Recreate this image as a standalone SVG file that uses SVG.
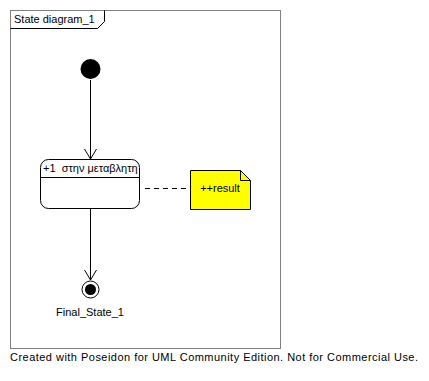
<svg xmlns="http://www.w3.org/2000/svg" width="429" height="381" viewBox="0 0 429 381">
<style>
text{font-family:"Liberation Sans",Arial,sans-serif;font-size:11px;fill:#000}
.ln{stroke:#000;stroke-width:1;fill:none}
</style>
<defs>
<marker id="open" markerWidth="12" markerHeight="16" refX="10" refY="8" orient="auto" markerUnits="userSpaceOnUse">
<path d="M0,2 L10,8 L0,14" fill="none" stroke="#000" stroke-width="1"/>
</marker>
</defs>
<rect width="429" height="381" fill="#fff"/>
<g id="frame">
<rect x="10.5" y="10.5" width="270" height="338" fill="none" stroke="#808080"/>
<path d="M10.5,28.5 H97.5 L104.5,21.5 V10.5" fill="none" stroke="#000"/>
<text x="14" y="23">State diagram_1</text>
</g>
<g id="connectors">
<line class="ln" x1="90.5" y1="80" x2="90.5" y2="159" marker-end="url(#open)"/>
<line class="ln" x1="90.5" y1="208" x2="90.5" y2="280" marker-end="url(#open)"/>
<line class="ln" x1="145" y1="188.5" x2="190" y2="188.5" stroke-dasharray="5,4"/>
</g>
<g id="initial">
<circle cx="90.5" cy="69" r="10" fill="#000"/>
</g>
<g id="state">
<rect x="40.5" y="159.5" width="99" height="49" rx="8" fill="#fff" stroke="#000"/>
<line class="ln" x1="40.5" y1="177.5" x2="139.5" y2="177.5"/>
<text x="43" y="172" xml:space="preserve" style="white-space:pre">+1  στην μεταβλητη</text>
</g>
<g id="note">
<path d="M190.5,170.5 H240.5 L250.5,180.5 V209.5 H190.5 Z" fill="#ffff00" stroke="#000"/>
<path d="M240.5,170.5 V180.5 H250.5" fill="none" stroke="#000"/>
<text x="220" y="192" text-anchor="middle">++result</text>
</g>
<g id="final">
<circle cx="90.5" cy="289.5" r="8.5" fill="#fff" stroke="#000"/>
<circle cx="90.5" cy="289.5" r="5.5" fill="#000"/>
<text x="90" y="316" text-anchor="middle">Final_State_1</text>
</g>
<text x="10" y="361" textLength="408" lengthAdjust="spacing">Created with Poseidon for UML Community Edition. Not for Commercial Use.</text>
</svg>
